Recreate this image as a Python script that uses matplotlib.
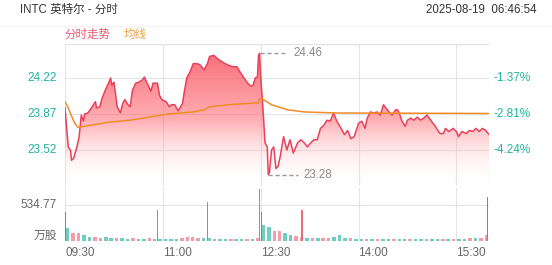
import numpy as np
import matplotlib
matplotlib.use('Agg')
import matplotlib.pyplot as plt
from matplotlib.transforms import blended_transform_factory

plt.rcParams['font.family'] = ['Liberation Sans', 'Noto Sans CJK SC']

# price trace (minutes after 09:30, price)
px_min = [0, 3, 5, 6, 8, 11, 13, 15, 17, 18, 21, 25, 28, 29, 32, 34, 37, 40, 42, 43,
          45, 46, 48, 51, 53, 55, 58, 60, 62, 65, 68, 71, 73, 75, 77, 79, 81, 85, 87, 89,
          93, 96, 98, 101, 104, 108, 110, 112, 115, 118, 121, 124, 128, 131, 133, 137, 140, 144, 149, 154,
          158, 161, 164, 168, 171, 173, 175, 177, 178, 179, 180, 182, 184, 186, 187, 188, 190, 192, 194, 196,
          198, 201, 204, 207, 210, 214, 217, 220, 223, 226, 229, 232, 235, 238, 241, 244, 247, 250, 254, 257,
          260, 263, 266, 269, 270, 273, 276, 278, 281, 284, 287, 290, 293, 295, 298, 301, 304, 306, 308, 310,
          313, 315, 318, 321, 324, 327, 330, 333, 337, 340, 343, 345, 348, 350, 353, 357, 360, 362, 365, 369,
          372, 375, 378, 381, 384, 387, 390]
px_val = [23.93, 23.55, 23.52, 23.42, 23.44, 23.55, 23.65, 23.86, 23.80, 23.87, 23.88, 23.94, 23.99, 23.93, 23.94, 24.02, 24.10, 24.17, 24.22, 24.15,
          24.18, 24.10, 23.94, 23.88, 23.97, 24.01, 23.96, 23.94, 24.10, 24.17, 24.18, 24.20, 24.23, 24.18, 24.14, 24.09, 24.17, 24.17, 24.05, 24.01,
          23.99, 23.94, 23.96, 23.96, 23.90, 23.97, 24.10, 24.22, 24.28, 24.36, 24.36, 24.35, 24.30, 24.36, 24.43, 24.44, 24.41, 24.38, 24.35, 24.33,
          24.33, 24.28, 24.23, 24.17, 24.14, 24.15, 24.22, 24.23, 24.44, 24.46, 24.23, 23.94, 23.59, 23.55, 23.28, 23.30, 23.52, 23.55, 23.34, 23.36,
          23.46, 23.65, 23.52, 23.62, 23.49, 23.59, 23.62, 23.59, 23.55, 23.59, 23.62, 23.62, 23.73, 23.76, 23.81, 23.80, 23.88, 23.80, 23.73, 23.67,
          23.71, 23.63, 23.65, 23.75, 23.78, 23.80, 23.73, 23.83, 23.89, 23.88, 23.89, 23.86, 23.96, 23.93, 23.89, 23.86, 23.91, 23.91, 23.86, 23.80,
          23.75, 23.81, 23.83, 23.81, 23.84, 23.81, 23.83, 23.86, 23.80, 23.76, 23.71, 23.68, 23.68, 23.73, 23.70, 23.73, 23.70, 23.65, 23.70, 23.68,
          23.71, 23.70, 23.73, 23.70, 23.73, 23.71, 23.67]

# average line
avg_min = [0, 3, 6, 9, 12, 40, 60, 95, 118, 128, 133, 150, 178, 179, 181, 190, 205, 220, 250, 390]
avg_val = [23.99, 23.93, 23.85, 23.78, 23.74, 23.79, 23.81, 23.87, 23.89, 23.91, 23.94, 23.96, 23.98, 24.02, 24.02, 23.96, 23.91, 23.89, 23.88, 23.875]

# volume (5-minute buckets, 万股) and direction (1 = up/teal, 0 = down/red)
vol_bucket = [190, 120, 110, 90, 60, 50, 45, 50, 40, 45, 35, 30, 35, 30, 30, 35, 30, 30, 30, 30,
              30, 45, 55, 60, 45, 35, 35, 30, 30, 30, 30, 25, 30, 25, 30, 35, 230, 200, 150, 140,
              120, 90, 70, 60, 45, 40, 45, 35, 40, 55, 90, 45, 35, 30, 30, 30, 28, 30, 25, 25,
              25, 28, 30, 30, 25, 25, 30, 30, 28, 30, 30, 28, 30, 30, 35, 40, 45, 80]
vol_dir = [1, 0, 0, 1, 1, 0, 0, 1, 1, 0, 1, 1, 0, 1, 1, 0, 1, 1, 1, 1,
           1, 0, 0, 0, 0, 1, 1, 0, 1, 1, 0, 1, 1, 0, 1, 0, 1, 1, 0, 0,
           1, 1, 0, 0, 1, 0, 1, 0, 0, 1, 1, 1, 0, 1, 1, 0, 1, 0, 1, 1,
           0, 1, 1, 0, 1, 1, 0, 1, 1, 0, 1, 0, 1, 1, 0, 1, 0, 0]
spike_min = [0, 85, 131, 179, 181, 218, 389]
spike_vol = [434, 459, 575, 775, 430, 459, 660]
spike_dir = [1, 0, 0, 0, 1, 0, 1]

x_ticks = [0, 90, 180, 270, 360]
x_labels = ['09:30', '11:00', '12:30', '14:00', '15:30']
p_ticks = [24.22, 23.87, 23.52]
pct_labels = ['-1.37%', '-2.81%', '-4.24%']

RED = '#e8415b'
TEAL = '#22b3a0'
ORANGE = '#f08c28'
GRID = '#e4e4e4'
W, H = 552, 265

fig = plt.figure(figsize=(W / 100, H / 100), dpi=100)
fig.patch.set_facecolor('white')

def fx(px):
    return px / W

def fy(py):
    return 1 - py / H

L, R = 65, 489
ax = fig.add_axes([fx(L), fy(186), fx(R - L), fy(44) - fy(186)])
axv = fig.add_axes([fx(L), fy(240.5), fx(R - L), fy(188) - fy(240.5)])

for a in (ax, axv):
    a.set_xlim(0, 390)
    for s in a.spines.values():
        s.set_visible(False)
    a.set_xticks([])
    a.set_yticks([])
    for t in x_ticks[1:] + [0, 390]:
        a.axvline(t, color=GRID, lw=0.8, zorder=0)

ax.set_ylim(23.17, 24.5506)
axv.set_ylim(0, 791)

for p in p_ticks:
    ax.axhline(p, color=GRID, lw=0.8, zorder=0)
ax.axhline(24.5506, color=GRID, lw=1.0, zorder=0)
axv.axhline(534.77, color=GRID, lw=0.8, zorder=0)
axv.axhline(0, color='#c8c8c8', lw=0.8, zorder=1)

# gradient area under price
poly = ax.fill_between(px_min, px_val, 23.17, color='none', lw=0)
grad = np.linspace(0.0, 1.0, 256).reshape(-1, 1)
cmap = matplotlib.colors.LinearSegmentedColormap.from_list(
    'g', [(1, 1, 1, 0.0), (1.0, 0.42, 0.45, 0.55), (0.97, 0.33, 0.38, 0.85)])
img = ax.imshow(grad, aspect='auto', cmap=cmap, origin='lower',
                extent=[0, 390, 23.17, 24.46], zorder=1)
img.set_clip_path(poly.get_paths()[0], transform=ax.transData)

ax.plot(px_min, px_val, color=RED, lw=1.1, zorder=3)
ax.plot(avg_min, avg_val, color=ORANGE, lw=1.1, zorder=4)

# high / low marks
ax.plot([179, 204], [24.46, 24.46], color='#999999', lw=1.0, ls=(0, (3, 2)), zorder=5)
ax.text(210, 24.46, '24.46', color='#888888', fontsize=8.3, va='center', ha='left')
ax.plot([187, 214], [23.28, 23.28], color='#999999', lw=1.0, ls=(0, (3, 2)), zorder=5)
ax.text(219.5, 23.28, '23.28', color='#888888', fontsize=8.3, va='center', ha='left')

# volume bars
vcol = [TEAL if d else '#f0687c' for d in vol_dir]
axv.bar(np.arange(len(vol_bucket)) * 5 + 2.5, vol_bucket, width=3.2, color=vcol, alpha=0.65, lw=0, zorder=2)
scol = [TEAL if d else '#f0687c' for d in spike_dir]
axv.bar(spike_min, spike_vol, width=1.0, color=scol, lw=0, zorder=3)

# axis labels
tl = blended_transform_factory(fig.transFigure, ax.transData)
for p, pc in zip(p_ticks, pct_labels):
    ax.text(fx(57), p, f'{p:.2f}', transform=tl, ha='right', va='center', color=TEAL, fontsize=8.5)
    ax.text(fx(494), p, pc, transform=tl, ha='left', va='center', color=TEAL, fontsize=8.5)
tv = blended_transform_factory(fig.transFigure, axv.transData)
axv.text(fx(57), 534.77, '534.77', transform=tv, ha='right', va='center', color='#666666', fontsize=8.5)
fig.text(fx(57), fy(236), '万股', ha='right', va='center', color='#666666', fontsize=8.5)
tx = blended_transform_factory(axv.transData, fig.transFigure)
for t, lab in zip(x_ticks, x_labels):
    axv.text(t, fy(253), lab, transform=tx, ha='left', va='center', color='#666666', fontsize=8.5)

# header
fig.text(fx(20), fy(10), 'INTC 英特尔 - 分时', ha='left', va='center', color='#333333', fontsize=8.3)
fig.text(fx(537), fy(10), '2025-08-19  06:46:54', ha='right', va='center', color='#333333', fontsize=8.3)
fig.add_artist(plt.Line2D([0, 1], [fy(26), fy(26)], color='#f2f2f2', lw=0.8))
fig.text(fx(64), fy(35), '分时走势', ha='left', va='center', color='#e85a70', fontsize=8.3)
fig.text(fx(124), fy(35), '均线', ha='left', va='center', color='#f0a040', fontsize=8.3)

fig.savefig('out.png', dpi=100)
